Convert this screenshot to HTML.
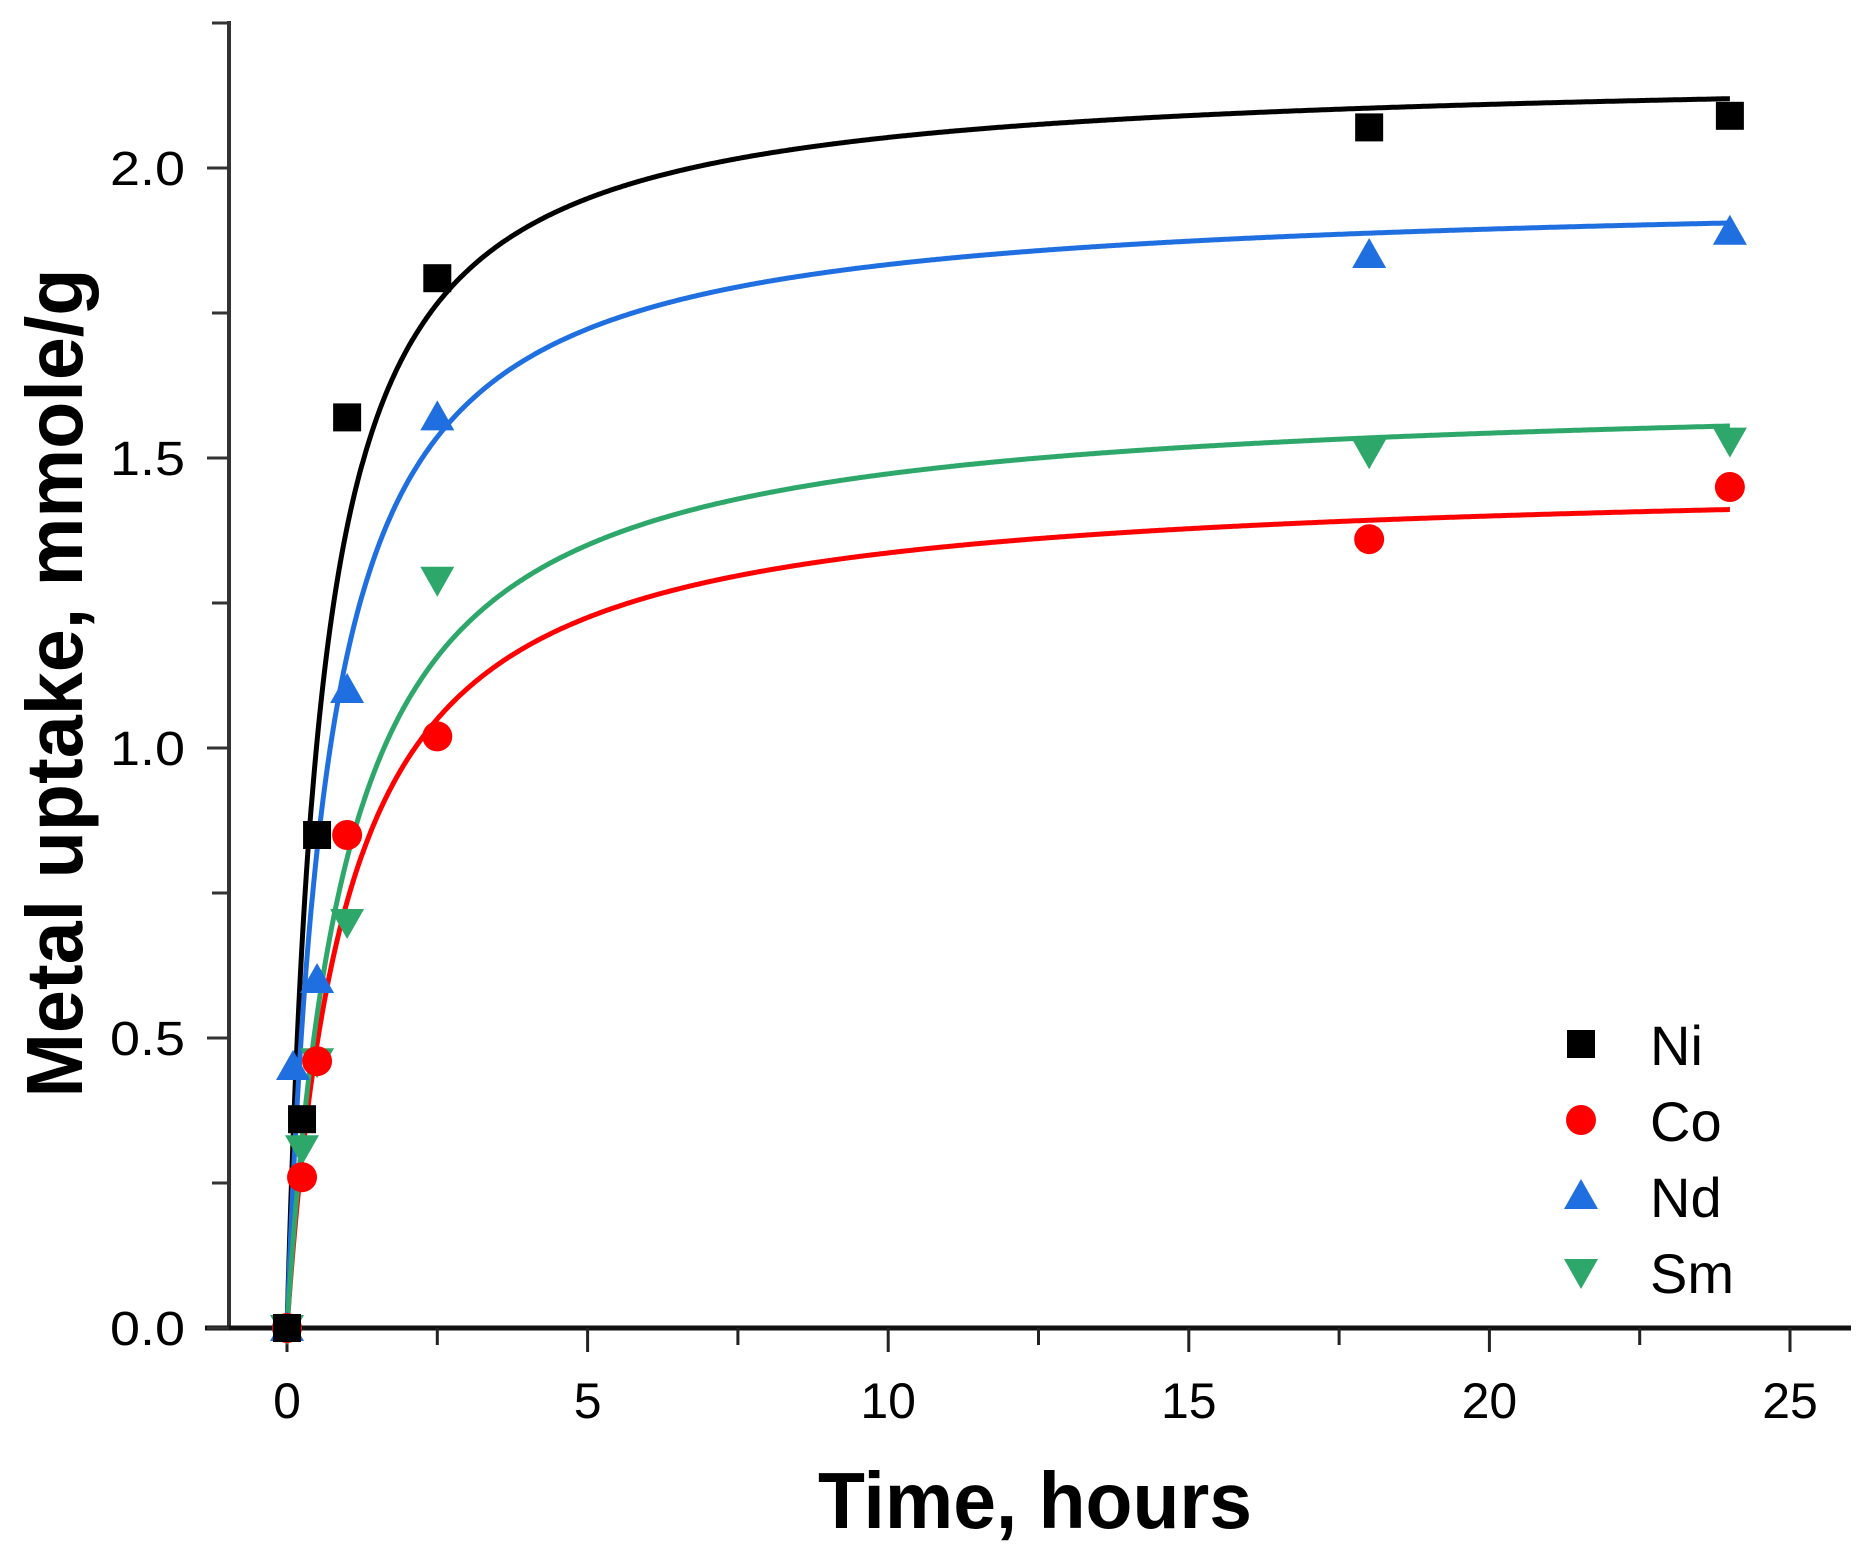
<!DOCTYPE html>
<html><head><meta charset="utf-8"><style>
html,body{margin:0;padding:0;background:#fff;}
svg{display:block;font-family:"Liberation Sans",Arial,sans-serif;}
</style></head><body>
<svg id="s" width="1863" height="1552" viewBox="0 0 1863 1552" xmlns="http://www.w3.org/2000/svg">
<text x="1035" y="1528" font-size="80" font-weight="bold" text-anchor="middle" textLength="434" lengthAdjust="spacingAndGlyphs">Time, hours</text>
<text transform="translate(82,683) rotate(-90)" font-size="80" font-weight="bold" text-anchor="middle" textLength="829" lengthAdjust="spacingAndGlyphs">Metal uptake, mmole/g</text>
</svg>
<script>
var s=document.getElementById('s'),NS='http://www.w3.org/2000/svg';
function X(t){return 287+t*60.12}function Y(q){return 1328-q*580}
function el(n,a,txt){var e=document.createElementNS(NS,n);for(var k in a)e.setAttribute(k,a[k]);if(txt!=null)e.textContent=txt;s.appendChild(e);return e}
el('line',{x1:229,y1:21,x2:229,y2:1330,stroke:'#333',"stroke-width":4});
el('line',{x1:205,y1:1328,x2:1851,y2:1328,stroke:'#111',"stroke-width":5});
for(var i=0;i<=9;i++){var q=i*0.25,y=Y(q),maj=i%2==0;
 el('line',{x1:maj?207:212,y1:y,x2:229,y2:y,stroke:'#333',"stroke-width":3});
 if(maj&&i<9)el('text',{x:185,y:y+17,"font-size":48,"text-anchor":"end",textLength:75,lengthAdjust:"spacingAndGlyphs"},q.toFixed(1));}
for(var i=0;i<=10;i++){var t=i*2.5,x=X(t),maj=i%2==0;
 el('line',{x1:x,y1:1328,x2:x,y2:maj?1352:1345,stroke:'#222',"stroke-width":3});
 if(maj)el('text',{x:x,y:1418,"font-size":50,"text-anchor":"middle"},String(t));}
var S=[{c:'#000',qe:2.17,k:1.75/2.17,m:'sq',d:[[0,0],[0.25,0.36],[0.5,0.85],[1,1.57],[2.5,1.81],[18,2.07],[24,2.09]]},
{c:'#ff0000',qe:1.47,k:1.0/1.47,m:'ci',d:[[0,0],[0.25,0.26],[0.5,0.46],[1,0.85],[2.5,1.02],[18,1.36],[24,1.45]]},
{c:'#1f6fe0',qe:1.96,k:1.45/1.96,m:'up',d:[[0,0],[0.1,0.45],[0.5,0.6],[1,1.1],[2.5,1.57],[18,1.85],[24,1.89]]},
{c:'#2ea86a',qe:1.62,k:1.0/1.62,m:'dn',d:[[0,0],[0.25,0.31],[0.5,0.46],[1,0.7],[2.5,1.29],[18,1.51],[24,1.53]]}];
function mk(m,x,y,c){var r=14;
 if(m=='sq')el('rect',{x:x-r,y:y-r,width:2*r,height:2*r,fill:c});
 else if(m=='ci')el('circle',{cx:x,cy:y,r:r+1,fill:c});
 else if(m=='up')el('polygon',{points:(x-17)+','+(y+13)+' '+(x+17)+','+(y+13)+' '+x+','+(y-17),fill:c});
 else el('polygon',{points:(x-17)+','+(y-13)+' '+(x+17)+','+(y-13)+' '+x+','+(y+17),fill:c});}
S.forEach(function(o){var p='';for(var t=0;t<=24.01;t+=0.02){var q=o.qe*o.qe*o.k*t/(1+o.qe*o.k*t);p+=(p?'L':'M')+X(t).toFixed(1)+','+Y(q).toFixed(1);}
 el('path',{d:p,fill:'none',stroke:o.c,"stroke-width":5});});
[3,2,1,0].forEach(function(i){var o=S[i];o.d.forEach(function(d){mk(o.m,X(d[0]),Y(d[1]),o.c)})});
var names=['Ni','Co','Nd','Sm'];
S.forEach(function(o,i){var y=1044+i*76;mk(o.m,1581,y,o.c);el('text',{x:1650,y:y+21,"font-size":56},names[i]);});
</script>
</body></html>
